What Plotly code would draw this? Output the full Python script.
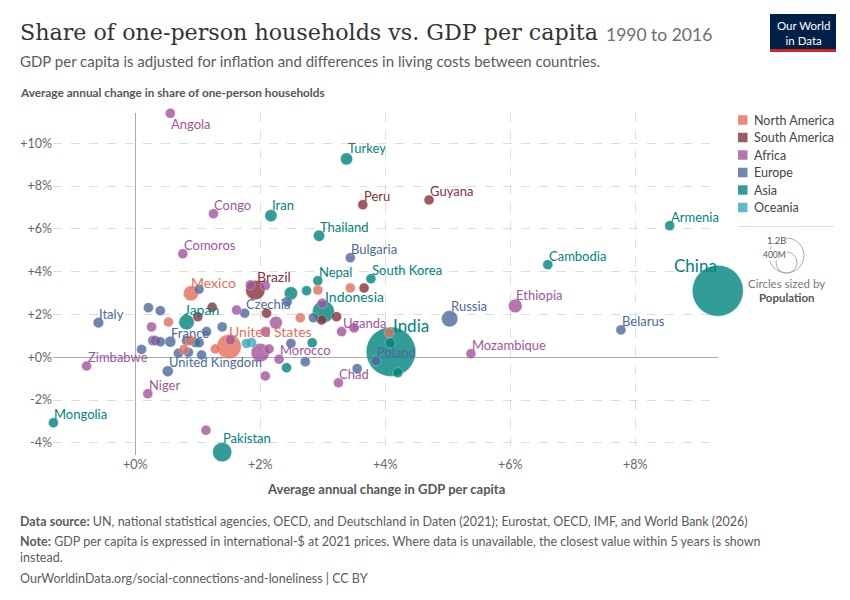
import plotly.graph_objects as go

# Average annual change 1990-2016, in percent; population in millions (approx.)
country = [
    "Angola", "Congo", "Comoros", "Iran", "Mexico", "Brazil", "Turkey", "Peru",
    "Guyana", "Thailand", "Bulgaria", "Nepal", "South Korea", "Indonesia", "Russia",
    "Ethiopia", "Cambodia", "Armenia", "China", "Belarus", "Mozambique", "India",
    "Poland", "Chad", "Uganda", "Morocco", "Czechia", "Japan", "France",
    "United States", "United Kingdom", "Italy", "Zimbabwe", "Niger", "Mongolia",
    "Pakistan",
    "", "", "", "", "", "", "", "", "", "", "", "", "", "", "", "", "", "", "", "",
    "", "", "", "", "", "", "", "", "", "", "", "", "", "", "", "", "", "", "", "",
    "", "", "", "", "", "", "", "", "", "", "", "", "", "", "",
]
continent = [
    "Africa", "Africa", "Africa", "Asia", "North America", "South America", "Asia",
    "South America", "South America", "Asia", "Europe", "Asia", "Asia", "Asia",
    "Europe", "Africa", "Asia", "Asia", "Asia", "Europe", "Africa", "Asia", "Europe",
    "Africa", "Africa", "Africa", "Europe", "Asia", "Europe", "North America",
    "Europe", "Europe", "Africa", "Africa", "Asia", "Asia",
    # unlabeled
    "Africa", "Asia", "Asia", "Europe", "Africa", "North America", "South America",
    "South America", "North America", "Europe", "Africa", "Europe", "Asia", "Asia",
    "Asia", "Asia", "North America", "North America", "South America", "Europe",
    "South America", "Africa", "Africa", "Africa", "Africa", "Oceania", "Oceania",
    "Africa", "Europe", "Africa", "Africa", "Europe", "Europe", "Europe",
    "North America", "South America", "South America", "Africa", "Africa", "Europe",
    "Europe", "Africa", "Europe", "Europe", "North America", "Asia", "Europe",
    "Europe", "Africa", "Europe", "Europe", "North America", "North America",
    "Europe", "Europe", "Europe", "Europe", "Africa", "South America", "Africa",
    "Africa", "Africa", "North America", "Asia",
]
gdp_change = [
    0.56, 1.25, 0.76, 2.17, 0.89, 1.92, 3.38, 3.64, 4.70, 2.94, 3.44, 2.92, 3.77,
    3.01, 5.03, 6.08, 6.60, 8.55, 9.32, 7.77, 5.37, 4.09, 3.85, 3.25, 3.30, 2.30,
    1.75, 0.82, 0.56, 1.50, 0.52, -0.59, -0.78, 0.20, -1.31, 1.39,
    1.13, 4.08, 4.20, 3.55, 3.50, 4.06, 3.22, 2.98, 2.64, 2.85, 2.99, 2.49, 2.83,
    2.42, 2.49, 2.74, 2.92, 3.44, 3.66, 2.43, 2.10, 2.25, 2.08, 2.00, 2.14, 1.78,
    1.86, 2.08, 2.72, 1.84, 2.08, 1.02, 0.21, 0.40, 0.53, 1.00, 1.23, 1.62, 0.26,
    1.39, 0.28, 0.32, 0.40, 0.82, 0.88, 0.96, 1.02, 1.14, 1.52, 0.10, 0.69, 1.28,
    0.78, 0.85, 1.06, 1.28, -1.03, -0.43, -0.92, -0.34, -0.35, -0.44, 5.37, 5.24,
    5.56,
]
households_change = [
    11.40, 6.71, 4.84, 6.62, 2.99, 3.14, 9.27, 7.13, 7.35, 5.68, 4.65, 3.58, 3.67,
    2.13, 1.80, 2.40, 4.33, 6.15, 3.11, 1.28, 0.17, 0.26, -0.17, -1.19, 1.20,
    -0.09, 2.06, 1.64, 0.73, 0.50, -0.65, 1.62, -0.41, -1.70, -3.06, -4.43,
    -3.41, 0.67, -0.72, -0.53, 1.37, 1.15, 1.90, 1.74, 1.85, 1.85, 2.52, 0.65,
    0.68, -0.49, 2.99, 3.11, 3.14, 3.24, 3.24, 2.60, 2.06, 1.62, 1.20, 0.22, 0.39,
    0.65, 0.69, -0.87, -0.21, 3.38, 3.35, 3.18, 2.32, 2.18, 1.65, 1.90, 2.34, 2.21,
    1.42, 1.42, 0.78, 0.78, 0.73, 0.78, 0.78, 0.69, 0.68, 1.20, 0.81, 0.37, 0.19,
    0.39, 0.37, 0.23, 0.11, 0.03, 2.08, 2.41, 1.28, 0.86, -0.72, -1.07, -0.69,
    1.62, 1.87,
]
population = [
    29, 5, 0.8, 80, 123, 206, 80, 31, 0.8, 69, 7, 28, 51, 261, 145, 103, 16, 3,
    1400, 9.5, 28, 1320, 38, 14.5, 40, 35, 10.5, 127, 66, 323, 65, 60, 14, 20, 3,
    200,
    5, 10, 5, 5, 3, 3, 18, 4, 3, 3, 2, 4, 3, 3, 95, 3, 3, 3, 4, 3, 5, 88, 3, 186,
    3, 5, 24, 5, 3, 5, 5, 2, 3, 3, 3, 3, 3, 3, 3, 3, 40, 3, 3, 3, 3, 5, 3, 3, 45,
    8, 3, 3, 3, 5, 3, 3, 3, 3, 3, 3, 9, 9, 3, 3, 85,
]

continents = ["North America", "South America", "Africa", "Europe", "Asia", "Oceania"]
colors = {
    "North America": "#E56E5A",
    "South America": "#883039",
    "Africa": "#A2559C",
    "Europe": "#4C6A9C",
    "Asia": "#00847E",
    "Oceania": "#38AABA",
}

# label tweaks: (font size, xanchor, yanchor, xshift, yshift)
label_style = {
    "Angola": (13, "left", "top", 0, -2),
    "Mexico": (14, "left", "bottom", -1, 1),
    "Brazil": (14, "left", "bottom", 1, 4),
    "Indonesia": (14, "left", "bottom", 1, 6),
    "Japan": (14, "left", "bottom", -4, 3),
    "United States": (14, "left", "bottom", -1, 6),
    "Russia": (13, "left", "bottom", 0, 4),
    "Pakistan": (13, "left", "bottom", 0, 5),
    "India": (17, "left", "bottom", 1, 15),
    "China": (17, "right", "bottom", 0, 14),
    "Turkey": (13, "left", "bottom", 0, 2),
    "Iran": (13, "left", "bottom", 0, 2),
    "Ethiopia": (13, "left", "bottom", 0, 2),
}

# the page puts the figure 8px in from the top-left corner; positions below
# are measured on the final screenshot
OFF = 8
SW, SH = 850, 600
L, R, T, B = 53, 718, 113, 455
PW, PH = R - L, B - T


def px(x):
    return (x - L) / PW


def py(y):
    return (B - y) / PH


order = sorted(range(len(country)), key=lambda i: -population[i])

fig = go.Figure()
fig.add_trace(go.Scatter(
    x=[gdp_change[i] for i in order],
    y=[households_change[i] for i in order],
    mode="markers",
    text=[country[i] for i in order],
    marker=dict(
        size=[population[i] for i in order],
        sizemode="area",
        sizeref=1400 / 36 ** 2,
        sizemin=5,
        color=[colors[continent[i]] for i in order],
        opacity=0.8,
        line=dict(width=0.5, color="rgba(255,255,255,0.7)"),
    ),
    cliponaxis=False,
    showlegend=False,
    hoverinfo="text",
))

annotations = []
for i, name in enumerate(country):
    if not name:
        continue
    size, xa, ya, xs, ys = label_style.get(name, (13, "left", "bottom", 0, 0))
    annotations.append(dict(
        x=gdp_change[i], y=households_change[i], xref="x", yref="y",
        text=name, showarrow=False, xanchor=xa, yanchor=ya,
        xshift=xs, yshift=ys, borderpad=0,
        font=dict(family="Lato", size=size, color=colors[continent[i]]),
    ))

grey = "#5b5b5b"


def note(x, y, text, size, color=grey, family="Lato", xanchor="left"):
    annotations.append(dict(
        x=px(x), y=py(y), xref="paper", yref="paper", text=text,
        showarrow=False, xanchor=xanchor, yanchor="middle",
        font=dict(family=family, size=size, color=color),
    ))


note(18, 32, "Share of one-person households vs. GDP per capita", 22.2,
     color="#333", family="DejaVu Serif")
note(604, 34, "1990 to 2016", 17.5, color="#6e6e6e")
note(18, 61, "GDP per capita is adjusted for inflation and differences in living costs between countries.", 15)
note(18, 93, "<b>Average annual change in share of one-person households</b>", 11.8, color="#555")
note(386, 489, "<b>Average annual change in GDP per capita</b>", 13, color="#555", xanchor="center")
note(18, 521, "<b>Data source:</b> UN, national statistical agencies, OECD, and Deutschland in Daten (2021); Eurostat, OECD, IMF, and World Bank (2026)", 12.5)
note(18, 541, "<b>Note:</b> GDP per capita is expressed in international-$ at 2021 prices. Where data is unavailable, the closest value within 5 years is shown", 12.5)
note(18, 557, "instead.", 12.5)
note(18, 578, "OurWorldinData.org/social-connections-and-loneliness | CC BY", 12.5)

shapes = []
# continent legend
for k, c in enumerate(continents):
    yc = 120 + k * 17.5
    shapes.append(dict(type="rect", xref="paper", yref="paper",
                       x0=px(738), x1=px(747.5), y0=py(yc - 4.75), y1=py(yc + 4.75),
                       fillcolor=colors[c], opacity=0.8, line=dict(width=0)))
    note(752, yc, c, 12.5, color="#444")

shapes.append(dict(type="line", xref="paper", yref="paper",
                   x0=px(738), x1=px(834), y0=py(226.5), y1=py(226.5),
                   line=dict(color="#ddd", width=1)))
# population size key
shapes.append(dict(type="circle", xref="paper", yref="paper",
                   x0=px(769), x1=px(804), y0=py(273), y1=py(238),
                   line=dict(color="#aaa", width=1)))
shapes.append(dict(type="circle", xref="paper", yref="paper",
                   x0=px(776), x1=px(797), y0=py(273), y1=py(252),
                   line=dict(color="#aaa", width=1)))
annotations.append(dict(x=px(786.5), y=py(240), xref="paper", yref="paper", text="1.2B",
                        showarrow=False, bgcolor="white", borderpad=0,
                        font=dict(family="Lato", size=9.5, color="#555")))
annotations.append(dict(x=px(786.5), y=py(255), xref="paper", yref="paper", text="400M",
                        showarrow=False, bgcolor="white", borderpad=0,
                        font=dict(family="Lato", size=8.5, color="#555")))
note(786.5, 283, "Circles sized by", 11.5, color="#777", xanchor="center")
note(786.5, 297, "<b>Population</b>", 11.5, color="#555", xanchor="center")

# OWID logo
shapes.append(dict(type="rect", xref="paper", yref="paper",
                   x0=px(770), x1=px(836), y0=py(52), y1=py(14),
                   fillcolor="#002147", line=dict(width=0)))
shapes.append(dict(type="rect", xref="paper", yref="paper",
                   x0=px(770), x1=px(836), y0=py(52), y1=py(49),
                   fillcolor="#CE261E", line=dict(width=0)))
note(803, 33, "Our World<br>in Data", 11.5, color="white", xanchor="center")

fig.update_layout(
    width=SW - OFF, height=SH - OFF,
    margin=dict(l=L - OFF, r=SW - R, t=T - OFF, b=SH - B),
    paper_bgcolor="white", plot_bgcolor="white",
    font=dict(family="Lato", color="#666"),
    xaxis=dict(
        range=[(L - 135.3) / 62.5, (R - 135.3) / 62.5],
        tickvals=[0, 2, 4, 6, 8],
        ticktext=["+0%", "+2%", "+4%", "+6%", "+8%"],
        showgrid=True, gridcolor="#ddd", griddash="dash",
        zeroline=True, zerolinecolor="#aaa", zerolinewidth=1,
        tickfont=dict(size=12.5, color="#666"),
        ticks="", showline=False,
    ),
    yaxis=dict(
        range=[(357.3 - B) / 21.4, (357.3 - T) / 21.4],
        tickvals=[-4, -2, 0, 2, 4, 6, 8, 10],
        ticktext=["-4%", "-2%", "+0%", "+2%", "+4%", "+6%", "+8%", "+10%"],
        showgrid=True, gridcolor="#ddd", griddash="dash",
        zeroline=True, zerolinecolor="#aaa", zerolinewidth=1,
        tickfont=dict(size=12.5, color="#666"),
        ticks="", showline=False,
    ),
    annotations=annotations,
    shapes=shapes,
)

fig.write_html("out.html")
